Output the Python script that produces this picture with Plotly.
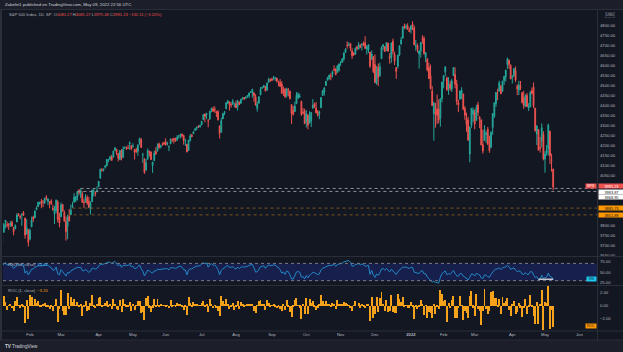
import numpy as np
import pandas as pd
import plotly.graph_objects as go

# ---------------- DATA (S&P 500 daily, Jan 4 2021 - May 9 2022) ----------------
open_ = [
    3764.61, 3698.02, 3712.20, 3764.71, 3815.05, 3803.14, 3801.62, 3802.23, 3814.98, 3788.73, 3781.88, 3816.22, 3857.46, 3844.24, 3851.68, 3862.96, 3836.83, 3755.75, 3778.05,
    3731.17, 3791.84, 3840.27, 3836.66, 3878.30, 3892.59, 3910.49, 3920.78, 3916.40, 3911.65, 3939.61, 3918.50, 3915.86, 3921.16, 3885.55, 3857.07, 3873.71, 3915.80, 3839.66,
    3842.51, 3903.64, 3863.99, 3818.53, 3793.58, 3844.39, 3851.93, 3891.99, 3915.54, 3924.52, 3942.96, 3973.59, 3949.57, 3953.50, 3913.14, 3916.48, 3937.60, 3919.93, 3879.34, 3917.12, 3969.31, 3963.34, 3967.25,
    3992.78, 4034.44, 4075.57, 4074.29, 4089.95, 4096.11, 4124.71, 4130.10, 4141.58, 4139.76, 4174.14, 4179.80, 4159.18, 4128.42, 4170.46, 4138.78, 4185.03, 4188.25, 4185.14, 4206.14, 4198.10,
    4191.98, 4179.04, 4177.06, 4169.14, 4210.34, 4228.29, 4150.34, 4130.55, 4074.99, 4129.58, 4169.92, 4165.94, 4098.45, 4121.97, 4168.61, 4170.16, 4205.94, 4191.59, 4201.94, 4210.77,
    4216.52, 4206.82, 4191.43, 4206.05, 4229.34, 4233.81, 4232.99, 4228.56, 4242.90, 4248.31, 4255.28, 4248.87, 4220.37, 4204.78, 4173.40, 4224.61, 4249.27, 4256.97, 4274.45, 4284.90, 4293.21, 4290.65,
    4300.73, 4326.60, 4356.46, 4351.01, 4321.07, 4329.38, 4372.41, 4381.07, 4380.11, 4369.02, 4367.43, 4296.40, 4265.11, 4331.13, 4361.27, 4381.20, 4409.58, 4416.38, 4402.95, 4403.59, 4395.12,
    4406.86, 4392.74, 4415.95, 4408.86, 4429.07, 4437.77, 4435.79, 4442.18, 4446.08, 4464.84, 4461.65, 4462.12, 4440.94, 4382.44, 4410.56, 4450.29, 4484.40, 4490.45, 4493.75, 4474.10, 4513.76, 4529.75,
    4528.80, 4534.48, 4532.42, 4535.38, 4518.09, 4513.02, 4506.92, 4474.81, 4479.33, 4447.49, 4477.09, 4469.74, 4402.95, 4374.45, 4367.43, 4406.75, 4438.04, 4442.12, 4419.54, 4362.41, 4370.67,
    4317.16, 4348.84, 4309.87, 4319.57, 4383.73, 4406.51, 4385.44, 4368.31, 4358.01, 4386.75, 4447.69, 4463.72, 4497.34, 4524.42, 4532.24, 4546.12, 4553.69, 4578.69, 4580.22, 4562.84, 4572.87,
    4610.62, 4613.34, 4630.65, 4662.93, 4699.26, 4701.48, 4707.25, 4670.26, 4659.39, 4655.24, 4689.30, 4679.42, 4701.50, 4700.72, 4708.44, 4712.00, 4678.48, 4675.78, 4664.63, 4628.75, 4640.25,
    4602.82, 4504.73, 4589.49, 4548.37, 4631.97, 4690.86, 4691.00, 4687.64, 4710.30, 4642.99, 4636.46, 4719.13, 4652.50, 4587.90, 4594.96, 4650.36, 4703.96, 4733.99, 4795.49, 4788.64, 4794.23, 4775.21,
    4778.14, 4804.51, 4787.99, 4693.39, 4697.66, 4655.34, 4669.14, 4728.59, 4733.56, 4637.99, 4632.24, 4588.03, 4547.35, 4471.38, 4356.32, 4366.64, 4380.58, 4380.50, 4336.19, 4431.79,
    4519.57, 4566.39, 4535.41, 4482.79, 4505.75, 4480.02, 4547.00, 4553.24, 4506.27, 4412.61, 4429.28, 4455.75, 4456.06, 4384.57, 4332.74, 4324.93, 4155.77, 4298.38, 4354.17,
    4363.14, 4322.56, 4401.31, 4342.12, 4327.01, 4202.66, 4223.10, 4252.55, 4279.50, 4202.75, 4188.82, 4288.14, 4345.11, 4407.34, 4462.40, 4469.10, 4493.10, 4469.98, 4522.91, 4541.09, 4602.86, 4624.20, 4599.02,
    4540.32, 4547.97, 4572.45, 4494.17, 4474.65, 4494.15, 4462.64, 4437.59, 4394.30, 4449.12, 4385.63, 4390.63, 4472.26, 4489.17, 4385.83, 4255.34, 4278.14, 4186.52, 4222.58, 4253.75,
    4130.61, 4159.78, 4181.18, 4270.43, 4128.17, 4081.27,
]
high = [
    3769.99, 3737.83, 3783.04, 3811.55, 3826.69, 3817.86, 3810.78, 3820.96, 3823.60, 3788.73, 3804.53, 3859.75, 3861.45, 3852.31, 3859.23, 3870.90, 3836.83, 3830.50, 3778.05,
    3784.32, 3843.09, 3847.51, 3872.42, 3894.56, 3915.77, 3918.35, 3931.50, 3925.99, 3937.23, 3950.43, 3933.61, 3921.98, 3930.41, 3902.92, 3895.98, 3928.65, 3925.02, 3861.08,
    3914.50, 3906.41, 3874.47, 3843.67, 3851.69, 3881.06, 3903.76, 3917.35, 3960.27, 3944.99, 3970.08, 3981.04, 3983.87, 3969.62, 3930.12, 3955.31, 3949.13, 3942.08, 3919.54, 3978.19, 3981.83, 3968.01, 3994.41,
    4020.63, 4083.42, 4086.23, 4083.13, 4098.19, 4129.48, 4131.76, 4148.00, 4151.69, 4173.49, 4191.31, 4180.81, 4159.18, 4175.02, 4179.57, 4194.17, 4194.19, 4193.35, 4201.53, 4218.78, 4198.10,
    4209.39, 4179.04, 4187.72, 4202.70, 4238.04, 4236.39, 4162.04, 4134.73, 4131.58, 4183.13, 4171.92, 4169.15, 4116.93, 4172.80, 4188.72, 4209.52, 4213.42, 4202.61, 4213.38, 4218.36,
    4234.12, 4217.37, 4198.25, 4233.45, 4232.34, 4236.74, 4237.09, 4249.74, 4248.38, 4255.59, 4257.16, 4251.89, 4232.29, 4204.78, 4226.24, 4255.84, 4256.60, 4271.28, 4286.12, 4292.14, 4300.52, 4302.43,
    4320.66, 4355.43, 4356.46, 4361.88, 4330.88, 4371.60, 4386.68, 4392.37, 4393.68, 4369.02, 4375.09, 4296.40, 4336.84, 4359.70, 4369.87, 4415.18, 4422.73, 4416.38, 4415.47, 4429.97, 4412.25,
    4422.18, 4423.79, 4416.17, 4429.76, 4440.82, 4439.39, 4445.21, 4449.44, 4461.77, 4468.37, 4480.26, 4462.12, 4454.32, 4418.61, 4444.35, 4489.88, 4492.81, 4501.71, 4495.90, 4513.33, 4537.36, 4531.39,
    4537.11, 4545.85, 4541.45, 4535.38, 4521.79, 4529.90, 4520.47, 4492.99, 4485.68, 4486.87, 4485.87, 4471.52, 4402.95, 4394.87, 4416.75, 4465.40, 4463.12, 4457.30, 4419.54, 4385.57, 4382.55,
    4375.19, 4355.51, 4369.23, 4365.57, 4429.97, 4412.02, 4415.88, 4374.89, 4372.87, 4439.73, 4475.82, 4488.75, 4520.40, 4540.87, 4551.44, 4559.67, 4572.62, 4598.53, 4584.57, 4597.55, 4608.08,
    4620.34, 4635.15, 4663.46, 4683.00, 4718.50, 4714.92, 4708.53, 4684.85, 4664.55, 4688.47, 4697.42, 4714.95, 4701.50, 4708.80, 4717.75, 4743.83, 4699.39, 4702.87, 4664.63, 4672.95, 4646.02,
    4652.94, 4595.46, 4608.03, 4612.60, 4694.04, 4705.06, 4695.26, 4713.57, 4710.30, 4660.47, 4712.60, 4731.99, 4666.70, 4587.90, 4651.14, 4697.67, 4740.74, 4791.49, 4807.02, 4804.06, 4808.93, 4786.83,
    4796.64, 4818.62, 4797.70, 4725.01, 4707.95, 4673.02, 4714.13, 4748.83, 4744.13, 4665.13, 4632.24, 4611.55, 4602.11, 4494.52, 4417.35, 4411.01, 4453.23, 4428.74, 4432.72, 4516.89,
    4550.49, 4595.31, 4542.88, 4539.66, 4521.86, 4531.32, 4590.03, 4588.92, 4526.33, 4426.22, 4472.77, 4489.55, 4456.06, 4394.60, 4362.12, 4341.51, 4294.73, 4385.34, 4388.84,
    4378.45, 4401.48, 4416.78, 4342.12, 4327.01, 4276.94, 4299.40, 4268.28, 4291.01, 4247.57, 4271.05, 4358.90, 4412.67, 4465.40, 4481.75, 4522.00, 4501.07, 4520.58, 4546.03, 4575.65, 4637.30, 4627.77, 4603.07,
    4548.70, 4583.50, 4593.45, 4503.94, 4521.16, 4520.41, 4464.35, 4471.00, 4453.92, 4460.46, 4410.31, 4471.03, 4488.29, 4512.94, 4385.83, 4299.02, 4278.14, 4240.71, 4308.45, 4269.68,
    4169.81, 4200.10, 4307.66, 4270.43, 4157.69, 4081.27,
]
low = [
    3662.71, 3695.07, 3705.34, 3764.71, 3783.60, 3789.02, 3776.51, 3791.50, 3792.86, 3749.62, 3780.37, 3816.22, 3845.05, 3830.41, 3797.16, 3847.78, 3732.48, 3755.75, 3694.12,
    3725.62, 3791.84, 3816.68, 3836.66, 3874.93, 3892.59, 3902.64, 3884.94, 3890.39, 3905.78, 3923.85, 3900.43, 3885.03, 3903.07, 3874.71, 3805.59, 3859.60, 3814.04, 3789.54,
    3842.51, 3868.57, 3818.86, 3723.34, 3730.19, 3819.25, 3851.93, 3885.73, 3915.54, 3915.21, 3923.54, 3953.44, 3935.74, 3910.86, 3886.75, 3914.16, 3901.78, 3889.07, 3853.50, 3917.12, 3943.25, 3944.35, 3966.98,
    3992.78, 4034.44, 4068.14, 4068.31, 4082.54, 4095.51, 4114.82, 4124.43, 4120.87, 4139.76, 4170.75, 4150.47, 4118.38, 4126.35, 4123.69, 4138.78, 4182.36, 4176.22, 4181.78, 4176.81, 4174.85,
    4188.03, 4128.59, 4160.94, 4147.33, 4201.64, 4188.13, 4111.53, 4056.88, 4074.99, 4129.58, 4142.69, 4125.99, 4061.41, 4121.97, 4151.72, 4170.16, 4182.52, 4184.11, 4197.78, 4203.57,
    4197.59, 4198.27, 4170.23, 4206.05, 4215.66, 4208.41, 4218.74, 4220.34, 4232.25, 4234.07, 4238.35, 4202.45, 4196.05, 4164.40, 4173.40, 4217.27, 4241.43, 4256.97, 4271.16, 4274.67, 4287.04, 4287.96,
    4300.73, 4326.60, 4314.37, 4329.79, 4289.37, 4329.38, 4364.03, 4366.92, 4362.36, 4340.70, 4323.06, 4233.13, 4262.05, 4331.13, 4350.06, 4381.20, 4405.45, 4372.51, 4387.01, 4403.59, 4389.65,
    4384.81, 4373.00, 4400.23, 4408.86, 4429.07, 4424.74, 4430.03, 4436.42, 4435.96, 4460.82, 4437.66, 4417.83, 4397.59, 4367.73, 4406.80, 4450.29, 4482.28, 4485.66, 4468.99, 4474.10, 4513.76, 4515.80,
    4522.02, 4524.66, 4521.30, 4513.00, 4493.95, 4492.07, 4457.66, 4445.70, 4435.46, 4438.37, 4443.80, 4427.76, 4305.91, 4347.96, 4367.43, 4406.75, 4430.27, 4436.19, 4346.33, 4355.08, 4306.24,
    4288.52, 4278.94, 4309.87, 4290.49, 4383.73, 4386.22, 4360.59, 4342.09, 4329.92, 4386.75, 4447.69, 4447.47, 4496.41, 4524.40, 4526.89, 4524.00, 4537.36, 4569.17, 4551.66, 4562.84, 4567.59,
    4595.06, 4613.34, 4621.19, 4662.59, 4681.32, 4694.39, 4670.87, 4630.86, 4648.31, 4650.77, 4672.86, 4679.42, 4684.41, 4672.78, 4694.22, 4682.17, 4652.66, 4659.89, 4585.43, 4625.26, 4560.00,
    4510.27, 4504.73, 4495.12, 4540.51, 4631.97, 4674.52, 4665.98, 4670.24, 4667.60, 4606.52, 4611.22, 4651.89, 4600.22, 4531.10, 4583.16, 4645.53, 4703.96, 4733.99, 4780.04, 4778.08, 4775.33, 4765.75,
    4758.17, 4774.27, 4699.44, 4671.26, 4662.74, 4582.24, 4638.27, 4706.71, 4650.29, 4614.75, 4568.70, 4530.20, 4477.95, 4395.34, 4222.62, 4287.11, 4304.80, 4309.50, 4292.46, 4414.02,
    4483.53, 4544.32, 4470.39, 4451.50, 4471.47, 4465.40, 4547.00, 4484.31, 4401.41, 4364.84, 4429.28, 4429.68, 4373.81, 4327.22, 4267.11, 4221.51, 4114.65, 4286.83, 4315.12,
    4279.54, 4322.56, 4345.56, 4284.98, 4199.85, 4157.87, 4223.10, 4209.80, 4200.49, 4161.72, 4187.90, 4251.99, 4335.65, 4390.57, 4424.30, 4469.10, 4455.81, 4465.17, 4501.07, 4517.69, 4581.18, 4581.32, 4530.41,
    4507.57, 4539.21, 4514.17, 4450.04, 4450.30, 4474.60, 4408.38, 4381.34, 4392.70, 4394.59, 4370.30, 4390.63, 4452.68, 4384.47, 4267.62, 4200.82, 4175.04, 4162.90, 4188.63, 4124.28,
    4062.51, 4147.08, 4148.91, 4106.01, 4067.91, 3975.48,
]
close = [
    3700.65, 3726.86, 3748.14, 3803.79, 3824.68, 3799.61, 3801.19, 3809.84, 3795.54, 3768.25, 3798.91, 3851.85, 3853.07, 3841.47, 3855.36, 3849.62, 3750.77, 3787.38, 3714.24,
    3773.86, 3826.31, 3830.17, 3871.74, 3886.83, 3915.59, 3911.23, 3909.88, 3916.38, 3934.83, 3932.59, 3931.33, 3913.97, 3906.71, 3876.50, 3881.37, 3925.43, 3829.34, 3811.15,
    3901.82, 3870.29, 3819.72, 3768.47, 3841.94, 3821.35, 3875.44, 3898.81, 3939.34, 3943.34, 3968.94, 3962.71, 3974.12, 3915.46, 3913.10, 3940.59, 3910.52, 3889.14, 3909.52, 3974.54, 3971.09, 3958.55, 3972.89,
    4019.87, 4077.91, 4073.94, 4079.95, 4097.17, 4128.80, 4127.99, 4141.59, 4124.66, 4170.42, 4185.47, 4163.26, 4134.94, 4173.42, 4134.98, 4180.17, 4187.62, 4186.72, 4183.18, 4211.47, 4181.17,
    4192.66, 4164.66, 4167.59, 4201.62, 4232.60, 4188.43, 4152.10, 4063.04, 4112.50, 4173.85, 4163.29, 4127.83, 4115.68, 4159.12, 4155.86, 4197.05, 4188.13, 4195.99, 4200.88, 4204.11,
    4202.04, 4208.12, 4192.85, 4229.89, 4226.52, 4227.26, 4219.55, 4239.18, 4247.44, 4255.15, 4246.59, 4223.70, 4221.86, 4166.45, 4224.79, 4246.44, 4241.84, 4266.49, 4280.70, 4290.61, 4291.80, 4297.50,
    4319.94, 4352.34, 4343.54, 4358.13, 4320.82, 4369.55, 4384.63, 4369.21, 4374.30, 4360.03, 4327.16, 4258.49, 4323.06, 4358.69, 4367.48, 4411.79, 4422.30, 4401.46, 4400.64, 4419.15, 4395.26,
    4387.16, 4423.15, 4402.66, 4429.10, 4436.52, 4432.35, 4436.75, 4447.70, 4460.83, 4468.00, 4479.71, 4448.08, 4400.27, 4405.80, 4441.67, 4479.53, 4486.23, 4496.19, 4470.00, 4509.37, 4528.79, 4522.68,
    4524.09, 4536.95, 4535.43, 4520.03, 4514.07, 4493.28, 4458.58, 4468.73, 4443.05, 4480.70, 4473.75, 4432.99, 4357.73, 4354.19, 4395.64, 4448.98, 4455.48, 4443.11, 4352.63, 4359.46, 4307.54,
    4357.04, 4300.46, 4345.72, 4363.55, 4399.76, 4391.34, 4361.19, 4350.65, 4363.80, 4438.26, 4471.37, 4486.46, 4519.63, 4536.19, 4549.78, 4544.90, 4566.48, 4574.79, 4551.68, 4596.42, 4605.38,
    4613.67, 4630.65, 4660.57, 4680.06, 4697.53, 4701.70, 4685.25, 4646.71, 4649.27, 4682.85, 4682.80, 4700.90, 4688.67, 4704.54, 4697.96, 4682.94, 4690.70, 4701.46, 4594.62, 4655.27, 4567.00,
    4513.04, 4577.10, 4538.43, 4591.67, 4686.75, 4701.21, 4667.45, 4712.02, 4668.97, 4634.09, 4709.85, 4668.67, 4620.64, 4568.02, 4649.23, 4696.56, 4725.79, 4791.19, 4786.35, 4793.06, 4778.73, 4766.18,
    4796.56, 4793.54, 4700.58, 4696.05, 4677.03, 4670.29, 4713.07, 4726.35, 4659.03, 4662.85, 4577.11, 4532.76, 4482.73, 4397.94, 4410.13, 4356.45, 4349.93, 4326.51, 4431.85, 4515.55,
    4546.54, 4589.38, 4477.44, 4500.53, 4483.87, 4521.54, 4587.18, 4504.08, 4418.64, 4401.67, 4471.07, 4475.01, 4380.26, 4348.87, 4304.76, 4225.50, 4288.70, 4384.65, 4373.94,
    4306.26, 4386.54, 4363.49, 4328.87, 4201.09, 4170.70, 4277.88, 4259.52, 4204.31, 4173.11, 4262.45, 4357.86, 4411.67, 4463.12, 4461.18, 4511.61, 4456.24, 4520.16, 4543.06, 4575.52, 4631.60, 4602.45, 4530.41,
    4545.86, 4582.64, 4525.12, 4481.15, 4500.21, 4488.28, 4412.53, 4397.45, 4446.59, 4392.59, 4391.69, 4462.21, 4459.45, 4393.66, 4271.78, 4296.12, 4175.20, 4183.96, 4287.50, 4131.93,
    4155.38, 4175.48, 4300.17, 4146.87, 4123.34, 3991.23,
]
# closes before the visible range (Nov 30 - Dec 31 2020), used only for indicator warm-up
warmup_close = [3621.63, 3662.45, 3669.01, 3666.72, 3699.12, 3691.96, 3702.25, 3672.82, 3668.10, 3663.46,
                3647.49, 3694.62, 3701.17, 3722.48, 3709.41, 3694.92, 3687.26, 3690.01, 3703.06, 3735.36,
                3727.04, 3732.04, 3756.07]

market_holidays = ["2021-01-18", "2021-02-15", "2021-04-02", "2021-05-31", "2021-07-05", "2021-09-06",
                   "2021-11-25", "2021-12-24", "2022-01-17", "2022-02-21", "2022-04-15", "2022-05-30"]

# horizontal levels: (value, start date, colour group)
level_values = [3983.87, 3968.95, 3885.73, 3851.89]
level_starts = ["2021-03-17", "2021-03-15", "2021-03-10", "2021-03-05"]
level_kinds = ["white", "white", "orange", "orange"]

header_text = "Zabelin1 published on TradingView.com, May 09, 2022 22:56 UTC"
symbol_text = "S&P 500 Index, 1D, SP"
# price labels visible on the axis (the ones hidden under the value tags are left out)
price_ticks = [3650, 3700, 3750, 3800, 4050, 4100, 4150, 4200, 4250, 4300, 4350, 4400, 4450,
               4500, 4550, 4600, 4650, 4700, 4750, 4800]
rsi_ticks = [25, 50, 75]
roc_ticks = [-2, 0, 2]

# ---------------- derived ----------------
sessions = pd.bdate_range("2021-01-04", "2022-06-30", freq="C", holidays=market_holidays)
n = len(close)
idx = list(range(n))
pos = {d.strftime("%Y-%m-%d"): i for i, d in enumerate(sessions)}

tickvals, ticktext = [], []
prev = None
for i, d in enumerate(sessions):
    key = (d.year, d.month)
    if key != prev:
        tickvals.append(i)
        ticktext.append("<b>%d</b>" % d.year if d.month == 1 else d.strftime("%b"))
        prev = key

allc = np.array(warmup_close + close, dtype=float)
diff = np.diff(allc)
gain = np.clip(diff, 0, None)
loss = np.clip(-diff, 0, None)
L = 14
ag = np.full(len(diff), np.nan)
al = np.full(len(diff), np.nan)
ag[L - 1] = gain[:L].mean()
al[L - 1] = loss[:L].mean()
for i in range(L, len(diff)):
    ag[i] = (ag[i - 1] * (L - 1) + gain[i]) / L
    al[i] = (al[i - 1] * (L - 1) + loss[i]) / L
rsi_all = 100 - 100 / (1 + ag / al)
rsi = rsi_all[-n:]
roc = (allc[1:] / allc[:-1] - 1) * 100
roc = roc[-n:]

# ---------------- layout geometry ----------------
W, H = 623, 352
PL, PR, PT, PB = 3, 597, 10, 331
XR = [2.5, 365.8]
YR = [3644, 4875]
RSIR = [18.8, 86.0]
ROCR = [-3.9, 3.05]

def fx(p):
    return (p - PL) / (PR - PL)

def fy(p):
    return (PB - p) / (PB - PT)

BG = "#131722"
AX = "#b2b5be"
UP = "#26a69a"
DN = "#ef5350"
ORANGE = "#f7a21b"
RSI_C = "#2388c8"
FONT = "Liberation Sans"

fig = go.Figure()
fig.add_trace(go.Candlestick(
    x=idx, open=open_, high=high, low=low, close=close,
    increasing=dict(line=dict(color=UP, width=1), fillcolor=UP),
    decreasing=dict(line=dict(color=DN, width=1), fillcolor=DN),
    whiskerwidth=0, xaxis="x", yaxis="y", hoverinfo="skip"))
fig.add_trace(go.Scatter(x=idx, y=rsi, mode="lines", line=dict(color=RSI_C, width=1),
                         xaxis="x", yaxis="y2", hoverinfo="skip"))
fig.add_trace(go.Bar(x=idx, y=roc, width=0.6, marker=dict(color=ORANGE, line=dict(width=0)),
                     xaxis="x", yaxis="y3", hoverinfo="skip"))

shapes = []
# header / footer bands
shapes.append(dict(type="rect", xref="paper", yref="paper", x0=fx(0), x1=fx(W), y0=fy(9.5), y1=fy(0),
                   fillcolor="#1c1f29", line=dict(width=0), layer="below"))
shapes.append(dict(type="rect", xref="paper", yref="paper", x0=fx(0), x1=fx(W), y0=fy(H), y1=fy(340),
                   fillcolor="#1c1f29", line=dict(width=0), layer="below"))
for yy in (9.5, 340):
    shapes.append(dict(type="line", xref="paper", yref="paper", x0=fx(0), x1=fx(W), y0=fy(yy), y1=fy(yy),
                       line=dict(color="#2a2e39", width=1)))
# panel separators
for yy in (256.5, 285.5, 331):
    shapes.append(dict(type="line", xref="paper", yref="paper", x0=fx(0), x1=fx(W), y0=fy(yy), y1=fy(yy),
                       line=dict(color="#2a2e39", width=1)))
shapes.append(dict(type="line", xref="paper", yref="paper", x0=fx(597.5), x1=fx(597.5), y0=fy(340), y1=fy(9.5),
                   line=dict(color="#2a2e39", width=1)))
shapes.append(dict(type="line", xref="paper", yref="paper", x0=fx(1), x1=fx(1), y0=fy(340), y1=fy(9.5),
                   line=dict(color="#2a2e39", width=2)))
# RSI band & levels
shapes.append(dict(type="rect", xref="x", yref="y2", x0=XR[0], x1=XR[1], y0=30, y1=70,
                   fillcolor="rgba(35,55,185,0.28)", line=dict(width=0), layer="below"))
for lv in (70, 30):
    shapes.append(dict(type="line", xref="x", yref="y2", x0=XR[0], x1=XR[1], y0=lv, y1=lv,
                       line=dict(color="#787b86", width=1, dash="dot")))
shapes.append(dict(type="line", xref="x", yref="y2", x0=n - 10, x1=n - 1, y0=33.3, y1=33.3,
                   line=dict(color="#c3c6ce", width=1.5)))
# horizontal levels on price
for v, s, k in zip(level_values, level_starts, level_kinds):
    col = "#8d9099" if k == "white" else "#7c5220"
    shapes.append(dict(type="line", xref="x", yref="y", x0=pos[s], x1=XR[1], y0=v, y1=v,
                       line=dict(color=col, width=1, dash="dot")))

ann = []
ann.append(dict(xref="paper", yref="paper", x=fx(3), y=fy(4.8), xanchor="left", yanchor="middle",
                text=header_text, showarrow=False, font=dict(size=4.3, color="#d1d4dc", family=FONT)))
o_, h_, l_, c_ = open_[-1], high[-1], low[-1], close[-1]
chg = close[-1] - close[-2]
pct = chg / close[-2] * 100
red = lambda t: "<span style='color:%s'>%s</span>" % (DN, t)
line2 = (symbol_text + "  O" + red("%.2f" % o_) + " H" + red("%.2f" % h_) + " L" + red("%.2f" % l_) +
         " C" + red("%.2f" % c_) + " " + red("%s%.2f (%s%.2f%%)" % ("−" if chg < 0 else "+", abs(chg),
                                                                     "−" if pct < 0 else "+", abs(pct))))
ann.append(dict(xref="paper", yref="paper", x=fx(7), y=fy(14.5), xanchor="left", yanchor="middle",
                text=line2, showarrow=False, font=dict(size=4.1, color="#b2b5be", family=FONT)))
ann.append(dict(xref="paper", yref="paper", x=fx(6), y=fy(264), xanchor="left", yanchor="middle",
                text="RSI (14, close)  <span style='color:%s'>%.2f</span>" % ("#38b6f0", rsi[-1]),
                showarrow=False, font=dict(size=4.1, color="#b2b5be", family=FONT)))
ann.append(dict(xref="paper", yref="paper", x=fx(6), y=fy(290), xanchor="left", yanchor="middle",
                text="ROC (1, close)  <span style='color:%s'>%s%.2f</span>" % (ORANGE, "−" if roc[-1] < 0 else "", abs(roc[-1])),
                showarrow=False, font=dict(size=4.1, color="#b2b5be", family=FONT)))
# USD label
ann.append(dict(xref="paper", yref="paper", x=fx(610), y=fy(15), xanchor="center", yanchor="middle",
                text="USD", showarrow=False, font=dict(size=3.8, color="#b2b5be", family=FONT),
                bordercolor="#434651", borderwidth=0.6, borderpad=0.5, bgcolor=BG))

def box(yval, yref, text, bg, fg, x0=597.5, w=25, yshift=0):
    ann.append(dict(xref="paper", yref=yref, x=fx(x0), y=yval, xanchor="left", yanchor="middle",
                    text=text, showarrow=False, width=w, height=4.4, align="center",
                    font=dict(size=3.9, color=fg, family=FONT), bgcolor=bg, borderpad=0, yshift=yshift))

box(close[-1], "y", "%.2f" % close[-1], DN, "#ffffff", yshift=1)
ann.append(dict(xref="paper", yref="y", x=fx(597), y=close[-1], xanchor="right", yanchor="middle",
                text="SPX", showarrow=False, width=10, height=4.4, font=dict(size=3.6, color="#ffffff", family=FONT),
                bgcolor=DN, borderpad=0, yshift=1))
shifts = [-3.5, -5.5, 0, -0.5]
for v, k, sh in zip(level_values, level_kinds, shifts):
    if k == "white":
        box(v, "y", "%.2f" % v, "#ffffff", "#131722", yshift=sh)
    else:
        box(v, "y", "%.2f" % v, "#ff9800", "#131722", yshift=sh)
ann.append(dict(xref="paper", yref="y2", x=fx(597), y=rsi[-1], xanchor="right", yanchor="middle",
                text="RSI", showarrow=False, width=9, height=4.4, font=dict(size=3.4, color="#131722", family=FONT),
                bgcolor="#1ec8f0", borderpad=0))
ann.append(dict(xref="paper", yref="y3", x=fx(597), y=roc[-1], xanchor="right", yanchor="middle",
                text="ROC", showarrow=False, width=10, height=4.4, font=dict(size=3.4, color="#131722", family=FONT),
                bgcolor="#ff9800", borderpad=0))
# footer
ann.append(dict(xref="paper", yref="paper", x=fx(3), y=fy(346.5), xanchor="left", yanchor="middle",
                text="<b>TV</b> TradingView", showarrow=False, font=dict(size=4.6, color="#d1d4dc", family=FONT)))

axfont = dict(size=4.2, color=AX, family=FONT)
fig.update_layout(
    width=W, height=H, margin=dict(l=PL, r=W - PR, t=PT, b=H - PB, pad=0),
    paper_bgcolor=BG, plot_bgcolor=BG, showlegend=False, hovermode=False, bargap=0,
    xaxis=dict(range=XR, domain=[0, 1], anchor="y3", tickvals=tickvals, ticktext=ticktext,
               tickfont=axfont, showgrid=False, zeroline=False, showline=False, ticks="",
               rangeslider=dict(visible=False), fixedrange=True),
    yaxis=dict(domain=[fy(256.5), 1], range=YR, side="right", anchor="x", tickvals=price_ticks,
               ticktext=["%.2f" % v for v in price_ticks], tickfont=axfont, showgrid=False,
               zeroline=False, ticks="", ticklabelstandoff=2),
    yaxis2=dict(domain=[fy(285.5), fy(256.5)], range=RSIR, side="right", anchor="x", tickvals=rsi_ticks,
                ticktext=["%.2f" % v for v in rsi_ticks], tickfont=axfont, showgrid=False,
                zeroline=False, ticks="", ticklabelstandoff=2),
    yaxis3=dict(domain=[0, fy(285.5)], range=ROCR, side="right", anchor="x", tickvals=roc_ticks,
                ticktext=[("−%.2f" % abs(v)) if v < 0 else "%.2f" % v for v in roc_ticks], tickfont=axfont,
                showgrid=False, zeroline=False, ticks="", ticklabelstandoff=2),
    shapes=shapes, annotations=ann,
)
fig.write_html("out.html")
